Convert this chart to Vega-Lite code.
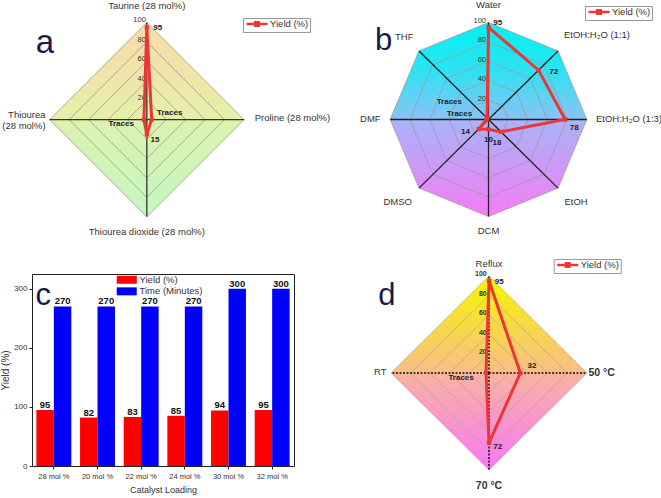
{
  "$schema": "https://vega.github.io/schema/vega-lite/v6.json",
  "padding": 0,
  "background": "white",
  "bounds": "flush",
  "columns": 2,
  "spacing": {"row": 34, "column": 47},
  "resolve": {"scale": {"color": "independent"}, "legend": {"color": "independent"}},
  "config": {
    "font": "Liberation Sans",
    "view": {"stroke": null},
    "axis": {"labelFont": "Liberation Sans", "titleFont": "Liberation Sans"},
    "legend": {"labelFont": "Liberation Sans"}
  },
  "datasets": {
    "a": [
      {"axis": "Taurine (28 mol%)", "i": 0, "value": 95, "label": "95"},
      {"axis": "Proline (28 mol%)", "i": 1, "value": 5, "label": "Traces"},
      {"axis": "Thiourea dioxide (28 mol%)", "i": 2, "value": 15, "label": "15"},
      {"axis": "Thiourea\n(28 mol%)", "i": 3, "value": 3, "label": "Traces"}
    ],
    "b": [
      {"axis": "Water", "i": 0, "value": 95, "label": "95"},
      {"axis": "EtOH:H₂O (1:1)", "i": 1, "value": 72, "label": "72"},
      {"axis": "EtOH:H₂O (1:3)", "i": 2, "value": 78, "label": "78"},
      {"axis": "EtOH", "i": 3, "value": 18, "label": "18"},
      {"axis": "DCM", "i": 4, "value": 10, "label": "10"},
      {"axis": "DMSO", "i": 5, "value": 14, "label": "14"},
      {"axis": "DMF", "i": 6, "value": 2, "label": "Traces"},
      {"axis": "THF", "i": 7, "value": 2, "label": "Traces"}
    ],
    "c": [
      {"loading": "28 mol %", "series": "Yield (%)", "value": 95},
      {"loading": "28 mol %", "series": "Time (Minutes)", "value": 270},
      {"loading": "20 mol %", "series": "Yield (%)", "value": 82},
      {"loading": "20 mol %", "series": "Time (Minutes)", "value": 270},
      {"loading": "22 mol %", "series": "Yield (%)", "value": 83},
      {"loading": "22 mol %", "series": "Time (Minutes)", "value": 270},
      {"loading": "24 mol %", "series": "Yield (%)", "value": 85},
      {"loading": "24 mol %", "series": "Time (Minutes)", "value": 270},
      {"loading": "30 mol %", "series": "Yield (%)", "value": 94},
      {"loading": "30 mol %", "series": "Time (Minutes)", "value": 300},
      {"loading": "32 mol %", "series": "Yield (%)", "value": 95},
      {"loading": "32 mol %", "series": "Time (Minutes)", "value": 300}
    ],
    "d": [
      {"axis": "Reflux", "i": 0, "value": 95, "label": "95"},
      {"axis": "50 °C", "i": 1, "value": 32, "label": "32"},
      {"axis": "70 °C", "i": 2, "value": 72, "label": "72"},
      {"axis": "RT", "i": 3, "value": 3, "label": "Traces"}
    ]
  },
  "concat": [
    {
      "width": 262, "height": 240,
      "data": {"name": "a"},
      "transform": [
        {"calculate": "datum.i * PI / 2", "as": "theta"},
        {"calculate": "0", "as": "o"},
        {"calculate": "100 * sin(datum.theta)", "as": "px"},
        {"calculate": "100 * cos(datum.theta)", "as": "py"},
        {"calculate": "datum.value * sin(datum.theta)", "as": "vx"},
        {"calculate": "datum.value * cos(datum.theta)", "as": "vy"}
      ],
      "layer": [
        {
          "transform": [{"filter": "datum.py > -0.001"}],
          "mark": {"type": "area", "fill": {"gradient": "linear", "x1": 0, "y1": 0, "x2": 0, "y2": 1, "stops": [{"offset": 0, "color": "#f8d9aa"}, {"offset": 1, "color": "#e6f0a8"}]}},
          "encoding": {
            "x": {"field": "px", "type": "quantitative", "scale": {"domain": [-118.1, 151.4], "nice": false, "zero": false}, "axis": null},
            "y": {"field": "py", "type": "quantitative", "scale": {"domain": [-123.8, 123.1], "nice": false, "zero": false}, "axis": null},
            "y2": {"field": "o"}
          }
        },
        {
          "transform": [{"filter": "datum.py < 0.001"}],
          "mark": {"type": "area", "fill": {"gradient": "linear", "x1": 0, "y1": 0, "x2": 0, "y2": 1, "stops": [{"offset": 0, "color": "#dcf2ae"}, {"offset": 1, "color": "#c4f7c2"}]}},
          "encoding": {
            "x": {"field": "px", "type": "quantitative", "scale": {"domain": [-118.1, 151.4], "nice": false, "zero": false}, "axis": null},
            "y": {"field": "py", "type": "quantitative", "scale": {"domain": [-123.8, 123.1], "nice": false, "zero": false}, "axis": null},
            "y2": {"field": "o"}
          }
        },
        {
          "transform": [
            {"calculate": "[20,40,60,80,100]", "as": "lv"},
            {"flatten": ["lv"]},
            {"calculate": "datum.lv * sin(datum.theta)", "as": "rx"},
            {"calculate": "datum.lv * cos(datum.theta)", "as": "ry"}
          ],
          "layer": [
            {
              "mark": {"type": "line", "interpolate": "linear-closed", "stroke": "#9a9a9a", "strokeWidth": 0.8},
              "encoding": {
                "x": {"field": "rx", "type": "quantitative", "scale": {"domain": [-118.1, 151.4], "nice": false, "zero": false}, "axis": null},
                "y": {"field": "ry", "type": "quantitative", "scale": {"domain": [-123.8, 123.1], "nice": false, "zero": false}, "axis": null},
                "detail": {"field": "lv", "type": "nominal"},
                "order": {"field": "i", "type": "quantitative"}
              }
            },
            {
              "transform": [{"filter": "datum.i == 0"}],
              "mark": {"type": "text", "align": "right", "baseline": "middle", "dx": -1, "dy": -2, "fontSize": 7.5, "fill": "#333"},
              "encoding": {
                "x": {"field": "rx", "type": "quantitative", "scale": {"domain": [-118.1, 151.4], "nice": false, "zero": false}, "axis": null},
                "y": {"field": "ry", "type": "quantitative", "scale": {"domain": [-123.8, 123.1], "nice": false, "zero": false}, "axis": null},
                "text": {"field": "lv", "type": "quantitative"}
              }
            }
          ]
        },
        {
          "mark": {"type": "rule", "stroke": "#333", "strokeWidth": 1.3},
          "encoding": {
            "x": {"field": "o", "type": "quantitative", "scale": {"domain": [-118.1, 151.4], "nice": false, "zero": false}, "axis": null},
            "y": {"field": "o", "type": "quantitative", "scale": {"domain": [-123.8, 123.1], "nice": false, "zero": false}, "axis": null},
            "x2": {"field": "px"},
            "y2": {"field": "py"}
          }
        },
        {
          "mark": {"type": "line", "interpolate": "linear-closed", "strokeWidth": 3, "point": {"shape": "square", "size": 18, "filled": true}},
          "encoding": {
            "x": {"field": "vx", "type": "quantitative", "scale": {"domain": [-118.1, 151.4], "nice": false, "zero": false}, "axis": null},
            "y": {"field": "vy", "type": "quantitative", "scale": {"domain": [-123.8, 123.1], "nice": false, "zero": false}, "axis": null},
            "order": {"field": "i", "type": "quantitative"},
            "color": {"datum": "Yield (%)", "type": "nominal", "scale": {"range": ["#ee3535"]},
              "legend": {"orient": "none", "legendX": 211, "legendY": 18, "title": null, "labelFontSize": 9.5, "labelColor": "#333",
                "symbolType": "M-3,0H3M-0.5,-0.5H0.5V0.5H-0.5Z", "symbolSize": 49, "symbolStrokeWidth": 2.5, "symbolFillColor": "#ee3535", "symbolStrokeColor": "#ee3535",
                "symbolOffset": 8, "labelOffset": 8, "strokeColor": "#999", "fillColor": "#fff", "padding": 1}}
          }
        },
        {
          "mark": {"type": "text", "fontWeight": "bold", "fontSize": 8, "fill": "#222", "align": "center", "baseline": "middle",
            "dx": {"expr": "[10.9,18,8.2,-22.7][datum.i]"}, "dy": {"expr": "[0.9,-6.4,5.7,4.6][datum.i]"}},
          "encoding": {
            "x": {"field": "vx", "type": "quantitative", "scale": {"domain": [-118.1, 151.4], "nice": false, "zero": false}, "axis": null},
            "y": {"field": "vy", "type": "quantitative", "scale": {"domain": [-123.8, 123.1], "nice": false, "zero": false}, "axis": null},
            "text": {"field": "label", "type": "nominal"}
          }
        },
        {
          "mark": {"type": "text", "fontSize": 9.5, "fill": "#333", "lineBreak": "\n", "baseline": "middle",
            "align": {"expr": "['center','left','center','right'][datum.i]"},
            "dx": {"expr": "[0,10.7,0,-4][datum.i]"}, "dy": {"expr": "[-16.7,-1.4,15,-5][datum.i]"}},
          "encoding": {
            "x": {"field": "px", "type": "quantitative", "scale": {"domain": [-118.1, 151.4], "nice": false, "zero": false}, "axis": null},
            "y": {"field": "py", "type": "quantitative", "scale": {"domain": [-123.8, 123.1], "nice": false, "zero": false}, "axis": null},
            "text": {"field": "axis", "type": "nominal"}
          }
        },
        {
          "transform": [{"filter": "datum.i == 0"}],
          "mark": {"type": "text", "text": "a", "fontSize": 33, "fill": "#1b1b46", "align": "center", "baseline": "alphabetic"},
          "encoding": {
            "x": {"datum": -104.9, "type": "quantitative", "scale": {"domain": [-118.1, 151.4], "nice": false, "zero": false}, "axis": null},
            "y": {"datum": 68.9, "type": "quantitative", "scale": {"domain": [-123.8, 123.1], "nice": false, "zero": false}, "axis": null}
          }
        }
      ]
    },
    {
      "width": 300, "height": 240,
      "data": {"name": "b"},
      "transform": [
        {"calculate": "datum.i * PI / 4", "as": "theta"},
        {"calculate": "0", "as": "o"},
        {"calculate": "100 * sin(datum.theta)", "as": "px"},
        {"calculate": "100 * cos(datum.theta)", "as": "py"},
        {"calculate": "datum.value * sin(datum.theta)", "as": "vx"},
        {"calculate": "datum.value * cos(datum.theta)", "as": "vy"}
      ],
      "layer": [
        {
          "transform": [{"filter": "datum.py > -0.001"}],
          "mark": {"type": "area", "fill": {"gradient": "linear", "x1": 0, "y1": 0, "x2": 0, "y2": 1, "stops": [{"offset": 0, "color": "#00f2f2"}, {"offset": 0.5, "color": "#2ee2f2"}, {"offset": 1, "color": "#8cc2f6"}]}},
          "encoding": {
            "x": {"field": "px", "type": "quantitative", "scale": {"domain": [-150.05, 155.14], "nice": false, "zero": false}, "axis": null},
            "y": {"field": "py", "type": "quantitative", "scale": {"domain": [-124.23, 123.2], "nice": false, "zero": false}, "axis": null},
            "y2": {"field": "o"}
          }
        },
        {
          "transform": [{"filter": "datum.py < 0.001"}],
          "mark": {"type": "area", "fill": {"gradient": "linear", "x1": 0, "y1": 0, "x2": 0, "y2": 1, "stops": [{"offset": 0, "color": "#a8b4f8"}, {"offset": 1, "color": "#f57cf5"}]}},
          "encoding": {
            "x": {"field": "px", "type": "quantitative", "scale": {"domain": [-150.05, 155.14], "nice": false, "zero": false}, "axis": null},
            "y": {"field": "py", "type": "quantitative", "scale": {"domain": [-124.23, 123.2], "nice": false, "zero": false}, "axis": null},
            "y2": {"field": "o"}
          }
        },
        {
          "transform": [
            {"calculate": "[20,40,60,80,100]", "as": "lv"},
            {"flatten": ["lv"]},
            {"calculate": "datum.lv * sin(datum.theta)", "as": "rx"},
            {"calculate": "datum.lv * cos(datum.theta)", "as": "ry"}
          ],
          "layer": [
            {
              "mark": {"type": "line", "interpolate": "linear-closed", "stroke": "#9a9aa8", "strokeWidth": 0.8},
              "encoding": {
                "x": {"field": "rx", "type": "quantitative", "scale": {"domain": [-150.05, 155.14], "nice": false, "zero": false}, "axis": null},
                "y": {"field": "ry", "type": "quantitative", "scale": {"domain": [-124.23, 123.2], "nice": false, "zero": false}, "axis": null},
                "detail": {"field": "lv", "type": "nominal"},
                "order": {"field": "i", "type": "quantitative"}
              }
            },
            {
              "transform": [{"filter": "datum.i == 0"}],
              "mark": {"type": "text", "align": "right", "baseline": "middle", "dx": -2.5, "dy": -1.5, "fontSize": 7.5, "fill": "#333"},
              "encoding": {
                "x": {"field": "rx", "type": "quantitative", "scale": {"domain": [-150.05, 155.14], "nice": false, "zero": false}, "axis": null},
                "y": {"field": "ry", "type": "quantitative", "scale": {"domain": [-124.23, 123.2], "nice": false, "zero": false}, "axis": null},
                "text": {"field": "lv", "type": "quantitative"}
              }
            }
          ]
        },
        {
          "mark": {"type": "rule", "stroke": "#222", "strokeWidth": 1.3},
          "encoding": {
            "x": {"field": "o", "type": "quantitative", "scale": {"domain": [-150.05, 155.14], "nice": false, "zero": false}, "axis": null},
            "y": {"field": "o", "type": "quantitative", "scale": {"domain": [-124.23, 123.2], "nice": false, "zero": false}, "axis": null},
            "x2": {"field": "px"},
            "y2": {"field": "py"}
          }
        },
        {
          "mark": {"type": "line", "interpolate": "linear-closed", "strokeWidth": 3, "point": {"shape": "square", "size": 18, "filled": true}},
          "encoding": {
            "x": {"field": "vx", "type": "quantitative", "scale": {"domain": [-150.05, 155.14], "nice": false, "zero": false}, "axis": null},
            "y": {"field": "vy", "type": "quantitative", "scale": {"domain": [-124.23, 123.2], "nice": false, "zero": false}, "axis": null},
            "order": {"field": "i", "type": "quantitative"},
            "color": {"datum": "Yield (%)", "type": "nominal", "scale": {"range": ["#ee3535"]},
              "legend": {"orient": "none", "legendX": 244, "legendY": 6, "title": null, "labelFontSize": 9.5, "labelColor": "#333",
                "symbolType": "M-3,0H3M-0.5,-0.5H0.5V0.5H-0.5Z", "symbolSize": 49, "symbolStrokeWidth": 2.5, "symbolFillColor": "#ee3535", "symbolStrokeColor": "#ee3535",
                "symbolOffset": 8, "labelOffset": 8, "strokeColor": "#999", "fillColor": "#fff", "padding": 1}}
          }
        },
        {
          "mark": {"type": "text", "fontWeight": "bold", "fontSize": 8, "fill": "#222", "align": "center", "baseline": "middle",
            "dx": {"expr": "[9.2,15.2,9.1,-4,0,-13.3,-27,-37.8][datum.i]"}, "dy": {"expr": "[-4.7,1.6,8.8,11,10.5,2.6,-6,-16.4][datum.i]"}},
          "encoding": {
            "x": {"field": "vx", "type": "quantitative", "scale": {"domain": [-150.05, 155.14], "nice": false, "zero": false}, "axis": null},
            "y": {"field": "vy", "type": "quantitative", "scale": {"domain": [-124.23, 123.2], "nice": false, "zero": false}, "axis": null},
            "text": {"field": "label", "type": "nominal"}
          }
        },
        {
          "mark": {"type": "text", "fontSize": 9.5, "fill": "#333", "baseline": "middle",
            "align": {"expr": "['center','left','left','left','center','right','right','right'][datum.i]"},
            "dx": {"expr": "[0,6,9.2,6.4,0,-7,-9.6,-5.5][datum.i]"}, "dy": {"expr": "[-17.5,-16,-1,13.6,14.5,13.6,-1,-14][datum.i]"}},
          "encoding": {
            "x": {"field": "px", "type": "quantitative", "scale": {"domain": [-150.05, 155.14], "nice": false, "zero": false}, "axis": null},
            "y": {"field": "py", "type": "quantitative", "scale": {"domain": [-124.23, 123.2], "nice": false, "zero": false}, "axis": null},
            "text": {"field": "axis", "type": "nominal"}
          }
        },
        {
          "transform": [{"filter": "datum.i == 0"}],
          "mark": {"type": "text", "text": "b", "fontSize": 31, "fill": "#1b1b46", "align": "center", "baseline": "alphabetic"},
          "encoding": {
            "x": {"datum": -106.8, "type": "quantitative", "scale": {"domain": [-150.05, 155.14], "nice": false, "zero": false}, "axis": null},
            "y": {"datum": 71.6, "type": "quantitative", "scale": {"domain": [-124.23, 123.2], "nice": false, "zero": false}, "axis": null}
          }
        }
      ]
    },
    {
      "width": 262, "height": 192,
      "data": {"name": "c"},
      "view": {"stroke": "#222", "strokeWidth": 1},
      "layer": [
        {
          "mark": {"type": "bar"},
          "encoding": {
            "x": {"field": "loading", "type": "nominal", "sort": null, "scale": {"paddingInner": 0.2, "paddingOuter": 0.1},
              "axis": {"title": "Catalyst Loading", "labelAngle": 0, "labelFontSize": 7.5, "labelColor": "#333", "labelPadding": 3.5, "tickSize": 3, "tickColor": "#222", "domain": false, "titleFontSize": 9, "titleFontWeight": "normal", "titleColor": "#333", "titlePadding": 5}},
            "xOffset": {"field": "series", "type": "nominal", "sort": ["Yield (%)", "Time (Minutes)"], "scale": {"paddingInner": 0, "paddingOuter": 0}},
            "y": {"field": "value", "type": "quantitative", "scale": {"domain": [0, 325], "nice": false},
              "axis": {"title": "Yield (%)", "values": [0, 50, 100, 150, 200, 250, 300], "labelFontSize": 8, "labelColor": "#333", "labelPadding": 2, "tickSize": 3, "tickColor": "#222", "domain": false, "grid": false, "titleFontSize": 10, "titleFontWeight": "normal", "titleColor": "#333", "titlePadding": 3}},
            "color": {"field": "series", "type": "nominal", "sort": ["Yield (%)", "Time (Minutes)"],
              "scale": {"domain": ["Yield (%)", "Time (Minutes)"], "range": ["#ff0000", "#0000ff"]},
              "legend": {"orient": "none", "legendX": 84, "legendY": 1, "title": null, "labelFontSize": 9.5, "labelColor": "#333",
                "symbolType": "M-2.5,-1H2.5V1H-2.5Z", "symbolSize": 64, "symbolStrokeWidth": 0, "symbolOffset": 6, "labelOffset": 8, "rowPadding": 0.6, "padding": 0}}
          }
        },
        {
          "mark": {"type": "text", "fontWeight": "bold", "fontSize": 9.5, "fill": "#111", "baseline": "alphabetic", "dy": -2},
          "encoding": {
            "x": {"field": "loading", "type": "nominal", "sort": null},
            "xOffset": {"field": "series", "type": "nominal", "sort": ["Yield (%)", "Time (Minutes)"]},
            "y": {"field": "value", "type": "quantitative"},
            "text": {"field": "value", "type": "quantitative"}
          }
        },
        {
          "transform": [{"filter": "datum.loading == '28 mol %' && datum.series == 'Yield (%)'"}],
          "mark": {"type": "text", "text": "c", "fontSize": 31, "fill": "#1b1b46", "align": "center", "baseline": "alphabetic", "dx": -10.6},
          "encoding": {
            "x": {"field": "loading", "type": "nominal", "sort": null},
            "y": {"datum": 272.4, "type": "quantitative"}
          }
        }
      ]
    },
    {
      "width": 300, "height": 192,
      "data": {"name": "d"},
      "transform": [
        {"calculate": "datum.i * PI / 2", "as": "theta"},
        {"calculate": "0", "as": "o"},
        {"calculate": "100 * sin(datum.theta)", "as": "px"},
        {"calculate": "100 * cos(datum.theta)", "as": "py"},
        {"calculate": "datum.value * sin(datum.theta)", "as": "vx"},
        {"calculate": "datum.value * cos(datum.theta)", "as": "vy"}
      ],
      "layer": [
        {
          "transform": [{"filter": "datum.py > -0.001"}],
          "mark": {"type": "area", "fill": {"gradient": "linear", "x1": 0, "y1": 0, "x2": 0, "y2": 1, "stops": [{"offset": 0, "color": "#f6f600"}, {"offset": 1, "color": "#f8be88"}]}},
          "encoding": {
            "x": {"field": "px", "type": "quantitative", "scale": {"domain": [-151.0, 155.1], "nice": false, "zero": false}, "axis": null},
            "y": {"field": "py", "type": "quantitative", "scale": {"domain": [-95.88, 102.06], "nice": false, "zero": false}, "axis": null},
            "y2": {"field": "o"}
          }
        },
        {
          "transform": [{"filter": "datum.py < 0.001"}],
          "mark": {"type": "area", "fill": {"gradient": "linear", "x1": 0, "y1": 0, "x2": 0, "y2": 1, "stops": [{"offset": 0, "color": "#f8b4a0"}, {"offset": 1, "color": "#f878f8"}]}},
          "encoding": {
            "x": {"field": "px", "type": "quantitative", "scale": {"domain": [-151.0, 155.1], "nice": false, "zero": false}, "axis": null},
            "y": {"field": "py", "type": "quantitative", "scale": {"domain": [-95.88, 102.06], "nice": false, "zero": false}, "axis": null},
            "y2": {"field": "o"}
          }
        },
        {
          "transform": [
            {"calculate": "[20,40,60,80,100]", "as": "lv"},
            {"flatten": ["lv"]},
            {"calculate": "datum.lv * sin(datum.theta)", "as": "rx"},
            {"calculate": "datum.lv * cos(datum.theta)", "as": "ry"}
          ],
          "layer": [
            {
              "mark": {"type": "line", "interpolate": "linear-closed", "stroke": "#a89a9a", "strokeWidth": 0.7, "opacity": 0.8},
              "encoding": {
                "x": {"field": "rx", "type": "quantitative", "scale": {"domain": [-151.0, 155.1], "nice": false, "zero": false}, "axis": null},
                "y": {"field": "ry", "type": "quantitative", "scale": {"domain": [-95.88, 102.06], "nice": false, "zero": false}, "axis": null},
                "detail": {"field": "lv", "type": "nominal"},
                "order": {"field": "i", "type": "quantitative"}
              }
            },
            {
              "transform": [{"filter": "datum.i == 0"}],
              "mark": {"type": "text", "align": "right", "baseline": "middle", "dx": -2.3, "dy": -1.5, "fontSize": 7, "fontWeight": "bold", "fill": "#333"},
              "encoding": {
                "x": {"field": "rx", "type": "quantitative", "scale": {"domain": [-151.0, 155.1], "nice": false, "zero": false}, "axis": null},
                "y": {"field": "ry", "type": "quantitative", "scale": {"domain": [-95.88, 102.06], "nice": false, "zero": false}, "axis": null},
                "text": {"field": "lv", "type": "quantitative"}
              }
            }
          ]
        },
        {
          "mark": {"type": "rule", "stroke": "#111", "strokeWidth": 1.5, "strokeDash": [2, 1.5]},
          "encoding": {
            "x": {"field": "o", "type": "quantitative", "scale": {"domain": [-151.0, 155.1], "nice": false, "zero": false}, "axis": null},
            "y": {"field": "o", "type": "quantitative", "scale": {"domain": [-95.88, 102.06], "nice": false, "zero": false}, "axis": null},
            "x2": {"field": "px"},
            "y2": {"field": "py"}
          }
        },
        {
          "mark": {"type": "line", "interpolate": "linear-closed", "strokeWidth": 3, "point": {"shape": "square", "size": 18, "filled": true}},
          "encoding": {
            "x": {"field": "vx", "type": "quantitative", "scale": {"domain": [-151.0, 155.1], "nice": false, "zero": false}, "axis": null},
            "y": {"field": "vy", "type": "quantitative", "scale": {"domain": [-95.88, 102.06], "nice": false, "zero": false}, "axis": null},
            "order": {"field": "i", "type": "quantitative"},
            "color": {"datum": "Yield (%)", "type": "nominal", "scale": {"range": ["#ee3535"]},
              "legend": {"orient": "none", "legendX": 212.7, "legendY": -15, "title": null, "labelFontSize": 9.5, "labelColor": "#333",
                "symbolType": "M-3,0H3M-0.5,-0.5H0.5V0.5H-0.5Z", "symbolSize": 49, "symbolStrokeWidth": 2.5, "symbolFillColor": "#ee3535", "symbolStrokeColor": "#ee3535",
                "symbolOffset": 8, "labelOffset": 8, "strokeColor": "#999", "fillColor": "#fff", "padding": 1}}
          }
        },
        {
          "mark": {"type": "text", "fontWeight": "bold", "fontSize": 8, "fill": "#222", "align": "center", "baseline": "middle",
            "dx": {"expr": "[10.3,11.6,8.7,-25][datum.i]"}, "dy": {"expr": "[1,-7,4.5,5.3][datum.i]"}},
          "encoding": {
            "x": {"field": "vx", "type": "quantitative", "scale": {"domain": [-151.0, 155.1], "nice": false, "zero": false}, "axis": null},
            "y": {"field": "vy", "type": "quantitative", "scale": {"domain": [-95.88, 102.06], "nice": false, "zero": false}, "axis": null},
            "text": {"field": "label", "type": "nominal"}
          }
        },
        {
          "mark": {"type": "text", "fill": "#333", "baseline": "middle",
            "fontSize": {"expr": "datum.i == 1 || datum.i == 2 ? 10.5 : 9.5"},
            "fontWeight": {"expr": "datum.i == 1 || datum.i == 2 ? 'bold' : 'normal'"},
            "align": {"expr": "['center','left','center','right'][datum.i]"},
            "dx": {"expr": "[0,1.5,0,-4.5][datum.i]"}, "dy": {"expr": "[-12,-0.3,15.7,-1.3][datum.i]"}},
          "encoding": {
            "x": {"field": "px", "type": "quantitative", "scale": {"domain": [-151.0, 155.1], "nice": false, "zero": false}, "axis": null},
            "y": {"field": "py", "type": "quantitative", "scale": {"domain": [-95.88, 102.06], "nice": false, "zero": false}, "axis": null},
            "text": {"field": "axis", "type": "nominal"}
          }
        },
        {
          "transform": [{"filter": "datum.i == 0"}],
          "mark": {"type": "text", "text": "d", "fontSize": 31, "fill": "#1b1b46", "align": "center", "baseline": "alphabetic"},
          "encoding": {
            "x": {"datum": -104.3, "type": "quantitative", "scale": {"domain": [-151.0, 155.1], "nice": false, "zero": false}, "axis": null},
            "y": {"datum": 70.1, "type": "quantitative", "scale": {"domain": [-95.88, 102.06], "nice": false, "zero": false}, "axis": null}
          }
        }
      ]
    }
  ]
}
